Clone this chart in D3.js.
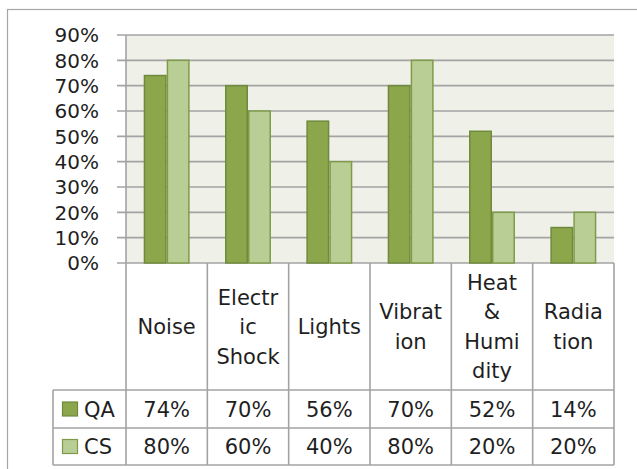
<!DOCTYPE html>
<html>
<head>
<meta charset="utf-8">
<script src="https://cdn.jsdelivr.net/npm/d3@7"></script>
<style>
  body { margin: 0; background: #fff; }
  text { font-family: "DejaVu Sans", sans-serif; fill: #1f1f1f; }
</style>
</head>
<body>
<svg width="637" height="469"></svg>
<script>
// data
var categories = ["Noise", "Electric Shock", "Lights", "Vibration", "Heat & Humidity", "Radiation"];
var catLines = [["Noise"], ["Electr", "ic", "Shock"], ["Lights"], ["Vibrat", "ion"], ["Heat", "&", "Humi", "dity"], ["Radia", "tion"]];
var series = ["QA", "CS"];
var qaValues = [0.74, 0.70, 0.56, 0.70, 0.52, 0.14];
var csValues = [0.80, 0.60, 0.40, 0.80, 0.20, 0.20];
var yTicks = [0, 0.1, 0.2, 0.3, 0.4, 0.5, 0.6, 0.7, 0.8, 0.9];

var fills = {QA: "#8ba64b", CS: "#b9ce94"};
var strokes = {QA: "#6f8a3c", CS: "#7f9b49"};
var gridColor = "#a3a3a3";

var plot = {left: 126, right: 614, top: 35, bottom: 263};
var rowTop = 390, rowMid = 428, rowBottom = 465, legendLeft = 53;

var svg = d3.select("svg");

// outer chart border
svg.append("rect")
    .attr("x", 7.5).attr("y", 9.5)
    .attr("width", 700).attr("height", 500)
    .style("fill", "#fff").style("stroke", "#a6a6a6").style("stroke-width", 1.2);

var x = d3.scaleBand().domain(categories).range([plot.left, plot.right]).padding(0);
var x1 = d3.scaleBand().domain(series).range([0, x.bandwidth()]).paddingInner(0).paddingOuter(0.77);
var y = d3.scaleLinear().domain([0, 0.9]).range([plot.bottom, plot.top]);

// plot background
svg.append("rect")
    .attr("x", plot.left).attr("y", plot.top)
    .attr("width", plot.right - plot.left).attr("height", plot.bottom - plot.top)
    .style("fill", "#eff1e9");

// gridlines + ticks
svg.append("g").selectAll("line")
    .data(yTicks)
    .enter().append("line")
    .attr("x1", plot.left - 9).attr("x2", plot.right)
    .attr("y1", function(d) { return y(d); })
    .attr("y2", function(d) { return y(d); })
    .style("stroke", gridColor).style("stroke-width", 1.6);

// y labels
svg.append("g").selectAll("text")
    .data(yTicks)
    .enter().append("text")
    .attr("x", 99)
    .attr("y", function(d) { return y(d); })
    .attr("dy", "0.36em")
    .style("text-anchor", "end")
    .style("font-size", "20px")
    .text(function(d) { return Math.round(d * 100) + "%"; });

// bars
var rows = categories.map(function(c, i) { return {cat: c, QA: qaValues[i], CS: csValues[i]}; });
var groups = svg.append("g").selectAll("g")
    .data(rows)
    .enter().append("g")
    .attr("transform", function(d) { return "translate(" + x(d.cat) + ",0)"; });

groups.selectAll("rect")
    .data(function(d) { return series.map(function(s) { return {s: s, v: d[s]}; }); })
    .enter().append("rect")
    .attr("x", function(d) { return x1(d.s) + 0.75; })
    .attr("width", x1.bandwidth() - 1.5)
    .attr("y", function(d) { return y(d.v); })
    .attr("height", function(d) { return y(0) - y(d.v); })
    .style("fill", function(d) { return fills[d.s]; })
    .style("stroke", function(d) { return strokes[d.s]; })
    .style("stroke-width", 1.5);

// table lines
var tbl = svg.append("g").style("stroke", gridColor).style("stroke-width", 1.6);
var bounds = categories.map(function(c) { return x(c); }).concat([plot.right]);
bounds.forEach(function(b) {
  tbl.append("line").attr("x1", b).attr("x2", b)
      .attr("y1", b === plot.left ? plot.top : plot.bottom).attr("y2", rowBottom);
});
[rowTop, rowMid, rowBottom].forEach(function(r) {
  tbl.append("line").attr("x1", legendLeft).attr("x2", plot.right).attr("y1", r).attr("y2", r);
});
tbl.append("line").attr("x1", legendLeft).attr("x2", legendLeft).attr("y1", rowTop).attr("y2", rowBottom);

// category labels (wrapped)
var lineH = 29.5;
var headerMid = (plot.bottom + rowTop) / 2;
svg.append("g").selectAll("g")
    .data(categories)
    .enter().append("g")
    .each(function(c, i) {
      var lines = catLines[i];
      var g = d3.select(this);
      lines.forEach(function(t, j) {
        g.append("text")
            .attr("x", x(c) + x.bandwidth() / 2)
            .attr("y", headerMid + (j - (lines.length - 1) / 2) * lineH)
            .attr("dy", "0.36em")
            .style("text-anchor", "middle")
            .style("font-size", "21px")
            .text(t);
      });
    });

// value rows + legend keys
var rowCenters = {QA: (rowTop + rowMid) / 2, CS: (rowMid + rowBottom) / 2};
var values = {QA: qaValues, CS: csValues};
series.forEach(function(s) {
  svg.append("rect")
      .attr("x", 62.5).attr("y", rowCenters[s] - 7)
      .attr("width", 15).attr("height", 14)
      .style("fill", fills[s]).style("stroke", strokes[s]).style("stroke-width", 1.2);
  svg.append("text")
      .attr("x", 84).attr("y", rowCenters[s])
      .attr("dy", "0.36em")
      .style("font-size", "21px")
      .text(s);
  svg.append("g").selectAll("text")
      .data(values[s])
      .enter().append("text")
      .attr("x", function(d, i) { return x(categories[i]) + x.bandwidth() / 2; })
      .attr("y", rowCenters[s])
      .attr("dy", "0.36em")
      .style("text-anchor", "middle")
      .style("font-size", "21px")
      .text(function(d) { return Math.round(d * 100) + "%"; });
});
</script>
</body>
</html>
